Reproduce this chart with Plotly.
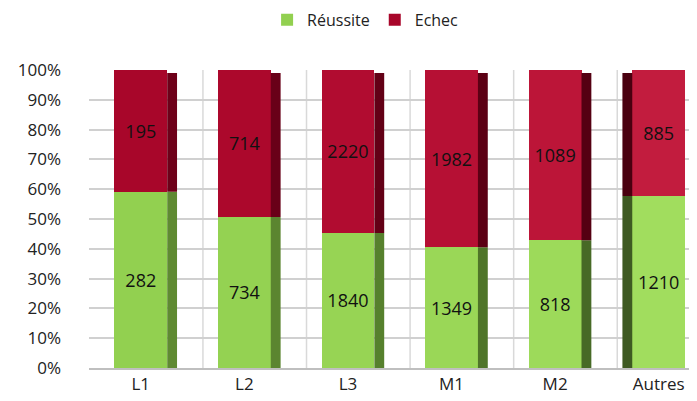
import plotly.graph_objects as go

categories = ["L1", "L2", "L3", "M1", "M2", "Autres"]
reussite = [282, 734, 1840, 1349, 818, 1210]
echec = [195, 714, 2220, 1982, 1089, 885]
y_ticks = [0, 10, 20, 30, 40, 50, 60, 70, 80, 90, 100]
y_tick_labels = [f"{v}%" for v in y_ticks]

green_front = ["#92D050", "#94D252", "#97D454", "#9AD757", "#9DDA5A", "#A1DD5E"]
red_front = ["#A8062A", "#AC082C", "#B10C30", "#B61034", "#BC1538", "#C21C3E"]
green_side = ["#5F8A32", "#5B8530", "#56802D", "#4F7529", "#476A26", "#3E5A22"]
red_side = ["#6E0019", "#690018", "#630016", "#5C0014", "#550012", "#4A0010"]

fig = go.Figure()
fig.add_bar(x=categories, y=reussite, name="Réussite", marker_color=green_front,
            marker_line_width=0, text=[str(v) for v in reussite],
            textposition="inside", insidetextanchor="middle",
            textfont=dict(color="#111", size=18), width=0.51)
fig.add_bar(x=categories, y=echec, name="Echec", marker_color=red_front,
            marker_line_width=0, text=[str(v) for v in echec],
            textposition="inside", insidetextanchor="middle",
            textfont=dict(color="#111", size=18), width=0.51)

# side faces (pseudo-3D), derived from the data
shapes = []
for i, (r, e) in enumerate(zip(reussite, echec)):
    p = 100.0 * r / (r + e)
    if i < len(categories) - 1:
        x0, x1 = i + 0.255, i + 0.35
    else:
        x0, x1 = i - 0.35, i - 0.255
    shapes.append(dict(type="rect", xref="x", yref="y", x0=x0, x1=x1, y0=0, y1=p,
                       fillcolor=green_side[i], line_width=0, layer="above"))
    shapes.append(dict(type="rect", xref="x", yref="y", x0=x0, x1=x1, y0=p, y1=99,
                       fillcolor=red_side[i], line_width=0, layer="above"))
# vertical back-wall gridlines between categories
for i in range(len(categories)):
    shapes.append(dict(type="line", xref="x", yref="y", x0=i + 0.6, x1=i + 0.6, y0=0, y1=100,
                       line=dict(color="#D9D9D9", width=1.5), layer="below"))

fig.update_layout(
    barmode="stack", barnorm="percent",
    width=689, height=393,
    margin=dict(l=81, r=0, t=62, b=33, autoexpand=False),
    paper_bgcolor="white", plot_bgcolor="white",
    font=dict(family="Open Sans, Noto Sans, sans-serif", size=16, color="#222"),
    legend=dict(orientation="h", x=0.519, xanchor="center", y=0.97, yanchor="middle",
                yref="container", xref="container",
                font=dict(size=16), itemwidth=30, traceorder="normal"),
    shapes=shapes,
    xaxis=dict(range=[-0.5, 5.37], showgrid=False, showline=True, linecolor="#BFBFBF",
               linewidth=1.5, ticks="", automargin=False, tickfont=dict(size=17, color="#222")),
    yaxis=dict(range=[0, 100], tickvals=y_ticks, ticktext=y_tick_labels,
               showgrid=True, gridcolor="#D0D0D0", gridwidth=1.5, automargin=False,
               zeroline=False, ticks="", ticklabelstandoff=27,
               tickfont=dict(size=17, color="#222")),
    showlegend=True,
)

fig.write_html("out.html")
